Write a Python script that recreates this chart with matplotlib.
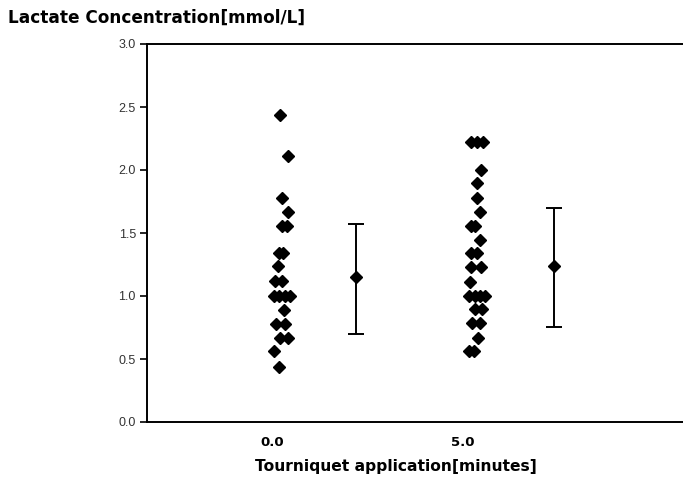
import matplotlib
matplotlib.use("Agg")
import matplotlib.pyplot as plt

# group 0 min (x jitter, value)
g0_x = [0.21, 0.41, 0.26, 0.41, 0.24, 0.39, 0.16, 0.29, 0.15, 0.08, 0.24,
        0.03, 0.18, 0.34, 0.47, 0.30, 0.10, 0.32, 0.21, 0.42, 0.05, 0.18]
g0_y = [2.44, 2.11, 1.78, 1.67, 1.555, 1.555, 1.34, 1.34, 1.24, 1.12, 1.12,
        1.0, 1.0, 1.0, 1.0, 0.89, 0.78, 0.78, 0.67, 0.67, 0.56, 0.44]

# group 5 min
g5_x = [5.21, 5.37, 5.53, 5.49, 5.37, 5.39, 5.45, 5.21, 5.32, 5.47, 5.21, 5.37,
        5.21, 5.49, 5.19, 5.18, 5.32, 5.45, 5.58, 5.32, 5.50, 5.24, 5.45, 5.42,
        5.16, 5.29]
g5_y = [2.22, 2.22, 2.22, 2.0, 1.90, 1.775, 1.67, 1.555, 1.555, 1.445, 1.34, 1.34,
        1.23, 1.23, 1.11, 1.0, 1.0, 1.0, 1.0, 0.90, 0.90, 0.785, 0.785, 0.67,
        0.566, 0.566]

# mean +- sd summary
sum_x = [2.2, 7.4]
sum_mean = [1.15, 1.24]
sum_low = [0.70, 0.757]
sum_high = [1.57, 1.70]

xticks = [0, 5]
xticklabels = ['0.0', '5.0']
yticks = [0.0, 0.5, 1.0, 1.5, 2.0, 2.5, 3.0]

fig = plt.figure(figsize=(6.83, 4.84), dpi=100)
ax = fig.add_axes([147/683, 62/484, 1 - 147/683, 378/484])

ax.plot(g0_x, g0_y, 'D', color='black', ms=5.8, ls='none')
ax.plot(g5_x, g5_y, 'D', color='black', ms=5.8, ls='none')

yerr = [[m - lo for m, lo in zip(sum_mean, sum_low)],
        [hi - m for m, hi in zip(sum_mean, sum_high)]]
ax.errorbar(sum_x, sum_mean, yerr=yerr, fmt='D', color='black', ms=5.8,
            capsize=6, elinewidth=1.4, capthick=1.4)

ax.set_xlim(-3.3, 10.8)
ax.set_ylim(0, 3.0)
ax.set_yticks(yticks)
ax.set_yticklabels([f'{v:.1f}' for v in yticks], fontfamily='Liberation Sans',
                   fontsize=9, color='#333333')
ax.set_xticks(xticks)
ax.set_xticklabels(xticklabels, fontfamily='DejaVu Sans', fontweight='bold', fontsize=9.5)
ax.tick_params(axis='x', length=0, pad=10)
ax.tick_params(axis='y', length=5, width=1.2, direction='out', pad=3)
for s in ['left', 'bottom', 'top']:
    ax.spines[s].set_linewidth(1.4)
ax.spines['right'].set_visible(False)

fig.text(8/683, 1 - 18/484, 'Lactate Concentration[mmol/L]', ha='left', va='center',
         fontfamily='DejaVu Sans', fontweight='bold', fontsize=12.2)
fig.text(396/683, 17/484, 'Tourniquet application[minutes]', ha='center', va='center',
         fontfamily='DejaVu Sans', fontweight='bold', fontsize=11.2)

fig.savefig('out.png', dpi=100)
